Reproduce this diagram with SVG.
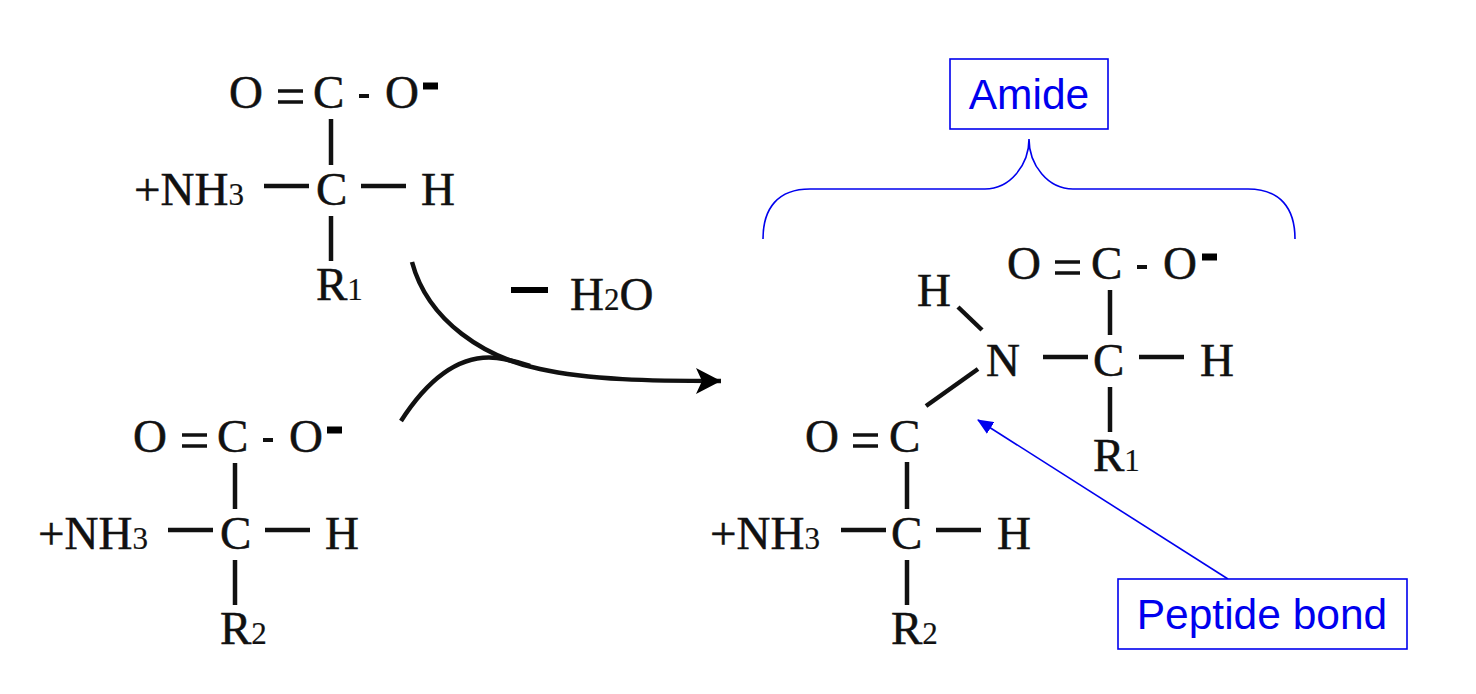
<svg xmlns="http://www.w3.org/2000/svg" width="1476" height="694" viewBox="0 0 1476 694">
<style>
text{font-family:"Liberation Serif","Times New Roman",serif;font-size:47px;fill:#111;stroke:#111;stroke-width:.5px}
.s{font-size:31px;stroke-width:.2px}
.b{stroke:#111;stroke-width:4.5px;fill:none}
.d{stroke:#111;stroke-width:3.5px;fill:none}
.ch{stroke:#000;stroke-width:7px;fill:none}
.blue{stroke:#0000ee;stroke-width:1.6px;fill:none}
text.lab{font-family:"Liberation Sans",Arial,sans-serif;font-size:42.5px;fill:#0000ee;stroke:none;text-anchor:middle}
.box{fill:#fff;stroke:#0000ee;stroke-width:1.6px}
</style>
<defs>
<marker id="ah" markerUnits="userSpaceOnUse" markerWidth="30" markerHeight="30" refX="25" refY="13" orient="auto" viewBox="0 0 30 26"><path d="M0 0L25 13L0 26L6 13Z" fill="#000"/></marker>
<marker id="ab" markerUnits="userSpaceOnUse" markerWidth="16" markerHeight="14" refX="14" refY="6.5" orient="auto" viewBox="0 0 15 13"><path d="M0 0L15 6.5L0 13Z" fill="#0000ee"/></marker>
</defs>

<g id="amino-acid-1">
<text x="229" y="108">O</text><path class="d" d="M278 91H303M278 102H303"/><text x="313" y="108">C</text><path class="d" d="M359 96H369" style="stroke-width:4px"/><text x="385" y="108">O</text><path class="ch" d="M423 86H438"/>
<path class="b" d="M331 119V165"/>
<text x="134" y="205">+NH<tspan class="s">3</tspan></text><path class="b" d="M264 186H309"/><text x="316" y="205">C</text><path class="b" d="M361 186H406"/><text x="421" y="205">H</text>
<path class="b" d="M331 216V261"/>
<text x="316" y="300">R<tspan class="s">1</tspan></text>
</g>

<g id="amino-acid-2">
<text x="133" y="452">O</text><path class="d" d="M182 435H207M182 446H207"/><text x="217" y="452">C</text><path class="d" d="M263 440H273" style="stroke-width:4px"/><text x="289" y="452">O</text><path class="ch" d="M327 430H342"/>
<path class="b" d="M235 463V509"/>
<text x="38" y="549">+NH<tspan class="s">3</tspan></text><path class="b" d="M168 530H213"/><text x="220" y="549">C</text><path class="b" d="M265 530H310"/><text x="325" y="549">H</text>
<path class="b" d="M235 560V605"/>
<text x="220" y="644">R<tspan class="s">2</tspan></text>
</g>

<g id="water-loss">
<path d="M511 290H548" stroke="#000" stroke-width="6"/>
<text x="570" y="310">H<tspan class="s">2</tspan>O</text>
</g>

<g id="connectors">
<path d="M412 262C428 322 486 358 540 369C590 380 650 381 721 381" stroke="#111" stroke-width="4.5" fill="none" marker-end="url(#ah)"/>
<path d="M401 421C430 376 462 354 497 358C505 359 515 361 530 366" stroke="#111" stroke-width="4.5" fill="none"/>
<path class="blue" d="M1228 579L978 420" marker-end="url(#ab)"/>
<path class="blue" d="M763 239C763 208 778 189 810 189H985C1010 189 1029 165 1029 139C1029 165 1048 189 1073 189H1248C1280 189 1295 208 1295 239"/>
</g>

<g id="dipeptide">
<text x="1007" y="279">O</text><path class="d" d="M1055 262H1080M1055 273H1080"/><text x="1091" y="279">C</text><path class="d" d="M1137 267H1147" style="stroke-width:4px"/><text x="1163" y="279">O</text><path class="ch" d="M1202 257H1217"/>
<path class="b" d="M1110 290V335"/>
<text x="917" y="306">H</text>
<path class="b" d="M958 307L982 330"/>
<text x="986" y="376">N</text>
<path class="b" d="M1043 357H1088"/><text x="1093" y="376">C</text><path class="b" d="M1139 357H1184"/><text x="1200" y="376">H</text>
<path class="b" d="M1110 387V432"/>
<text x="1093" y="471">R<tspan class="s">1</tspan></text>
<path class="b" d="M926 406L978 369"/>
<text x="805" y="452">O</text><path class="d" d="M853 435H878M853 446H878"/><text x="889" y="452">C</text>
<path class="b" d="M907 462V509"/>
<text x="710" y="549">+NH<tspan class="s">3</tspan></text><path class="b" d="M841 530H886"/><text x="891" y="549">C</text><path class="b" d="M936 530H981"/><text x="997" y="549">H</text>
<path class="b" d="M907 560V605"/>
<text x="891" y="644">R<tspan class="s">2</tspan></text>
</g>

<g id="amide-label"><rect class="box" x="950" y="59" width="158" height="70"/><text class="lab" x="1029" y="109">Amide</text></g>
<g id="peptide-bond-label"><rect class="box" x="1118" y="579" width="289" height="70"/><text class="lab" x="1262" y="629">Peptide bond</text></g>
</svg>
